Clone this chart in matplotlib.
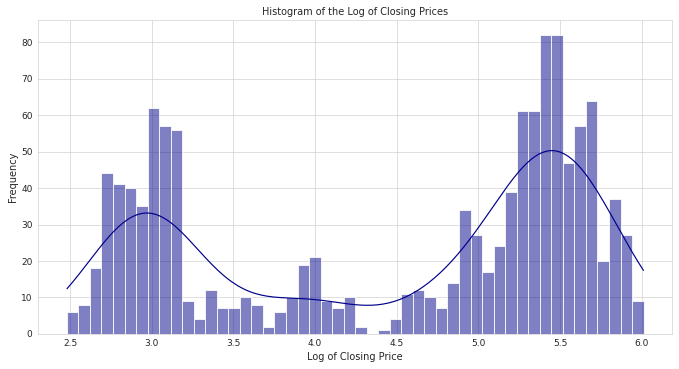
import numpy as np
import matplotlib
matplotlib.use("Agg")
import matplotlib.pyplot as plt
import seaborn as sns

# bin range and counts (50 bins)
bin_lo, bin_hi, n_bins = 2.48, 6.012, 50
counts = [6, 8, 18, 44, 41, 40, 35, 62, 57, 56,
          9, 4, 12, 7, 7, 10, 8, 2, 6, 10,
          19, 21, 9, 7, 10, 2, 0, 1, 4, 11,
          12, 10, 7, 14, 34, 27, 17, 24, 39, 61,
          61, 82, 82, 47, 57, 64, 20, 37, 27, 9]

edges = np.linspace(bin_lo, bin_hi, n_bins + 1)
width = edges[1] - edges[0]
# spread each bin's count evenly inside the bin (kept off the edges)
# so the kde covers the full range
log_close = np.concatenate([
    edges[i] + width * (0.01 + 0.98 * np.arange(c) / max(c - 1, 1))
    if c > 1 else edges[i:i + c] + width / 2
    for i, c in enumerate(counts)
])

sns.set_style("whitegrid")
fig, ax = plt.subplots(figsize=(12, 6.52), dpi=56.6)
sns.histplot(log_close, bins=edges, kde=True, color="darkblue", ax=ax)
ax.set_title("Histogram of the Log of Closing Prices", fontsize=12.5)
ax.set_xlabel("Log of Closing Price", fontsize=12.5)
ax.set_ylabel("Frequency", fontsize=12.5)
ax.tick_params(labelsize=11.5)
fig.subplots_adjust(left=0.056, right=0.99, bottom=0.095, top=0.946)
fig.savefig("out.png")
